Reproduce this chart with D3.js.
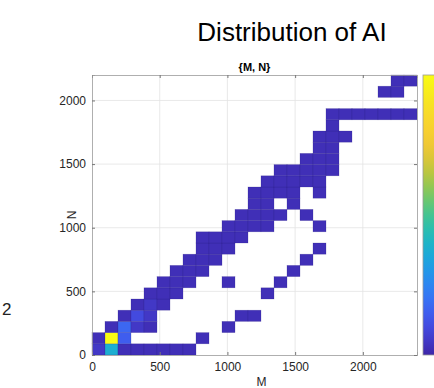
<!DOCTYPE html>
<html>
<head>
<meta charset="utf-8">
<script src="https://cdn.jsdelivr.net/npm/d3@7/dist/d3.min.js"></script>
<style>
  body { margin: 0; background: #fff; }
  svg { display: block; font-family: Arial, "Liberation Sans", Helvetica, sans-serif; }
</style>
</head>
<body>
<svg id="chart" width="434" height="388"></svg>
<script>
// DATA
const mDomain = [0, 2400];
const nDomain = [0, 2200];
const mBinWidth = 96;
const nBinWidth = 88;
const mTicks = [0, 500, 1000, 1500, 2000];
const nTicks = [0, 500, 1000, 1500, 2000];
const countMax = 40;

// [M bin index, N bin index, count]
const cells = [
  [0,0,2],[1,0,15],[2,0,1],[3,0,1],[4,0,1],[5,0,1],[6,0,1],[7,0,1],
  [0,1,1],[1,1,40],[2,1,6],[8,1,1],
  [1,2,1],[2,2,7],[3,2,2],[4,2,1],[10,2,1],
  [2,3,1],[3,3,4],[4,3,2],[11,3,1],[12,3,1],
  [3,4,1],[4,4,2],[5,4,1],
  [4,5,1],[5,5,1],[6,5,1],[13,5,1],
  [5,6,1],[6,6,1],[7,6,1],[10,6,1],[14,6,1],
  [6,7,1],[7,7,1],[8,7,1],[15,7,1],
  [7,8,1],[8,8,1],[9,8,1],[16,8,1],
  [8,9,1],[9,9,1],[10,9,1],[17,9,1],
  [8,10,1],[9,10,1],[10,10,1],[11,10,1],
  [10,11,1],[11,11,1],[12,11,1],[13,11,1],[17,11,1],
  [11,12,1],[12,12,1],[13,12,1],[14,12,1],[16,12,1],
  [12,13,1],[13,13,1],[15,13,1],
  [12,14,1],[13,14,1],[14,14,1],[15,14,1],[17,14,1],
  [13,15,1],[14,15,1],[15,15,1],[16,15,1],[17,15,1],
  [14,16,1],[15,16,1],[16,16,1],[17,16,1],[18,16,1],
  [16,17,1],[17,17,1],[18,17,1],
  [17,18,1],[18,18,1],
  [17,19,1],[18,19,1],[19,19,1],
  [18,20,1],
  [18,21,1],[19,21,1],[20,21,1],[21,21,1],[22,21,1],[23,21,1],[24,21,1],
  [22,23,1],[23,23,1],
  [23,24,1],[24,24,1]
];

// parula-like colormap
const parulaStops = ["#3e26a8", "#4852f4", "#2d87f7", "#12b1d6", "#37c897", "#abc739", "#fec338", "#f5dd26", "#f9fb14"];
const parula = d3.interpolateRgbBasis(parulaStops);

const margin = {top: 75, right: 17, bottom: 33, left: 92};
const width = 434 - margin.left - margin.right,
      height = 388 - margin.top - margin.bottom;

const svg = d3.select("#chart");

// big title
svg.append("text")
    .attr("x", 292)
    .attr("y", 41)
    .attr("text-anchor", "middle")
    .attr("font-size", 26)
    .attr("fill", "#000")
    .text("Distribution of AI");

svg.append("text")
    .attr("x", 2)
    .attr("y", 315)
    .attr("font-size", 17)
    .attr("fill", "#222")
    .text("2");

const g = svg.append("g")
    .attr("transform", `translate(${margin.left}, ${margin.top})`);

const x = d3.scaleLinear().domain(mDomain).range([0, width]);
const y = d3.scaleLinear().domain(nDomain).range([height, 0]);
const color = d3.scaleSequential(parula).domain([0, countMax]);

// grid
g.append("g").selectAll("line")
  .data(mTicks.slice(1))
  .join("line")
    .attr("x1", d => x(d)).attr("x2", d => x(d))
    .attr("y1", 0).attr("y2", height)
    .attr("stroke", "#e3e3e3").attr("stroke-width", 0.8);
g.append("g").selectAll("line")
  .data(nTicks.slice(1))
  .join("line")
    .attr("y1", d => y(d)).attr("y2", d => y(d))
    .attr("x1", 0).attr("x2", width)
    .attr("stroke", "#e3e3e3").attr("stroke-width", 0.8);

// tiles
g.append("g").selectAll("rect")
  .data(cells)
  .join("rect")
    .attr("x", d => x(d[0] * mBinWidth))
    .attr("y", d => y((d[1] + 1) * nBinWidth))
    .attr("width", d => x((d[0] + 1) * mBinWidth) - x(d[0] * mBinWidth))
    .attr("height", d => y(d[1] * nBinWidth) - y((d[1] + 1) * nBinWidth))
    .attr("fill", d => color(d[2]))
    .attr("stroke", "#2a1c80")
    .attr("stroke-opacity", 0.35)
    .attr("stroke-width", 0.6);

// axes
const fmt = d3.format("d");
const xAxis = g.append("g")
    .attr("transform", `translate(0, ${height})`)
    .call(d3.axisBottom(x).tickValues(mTicks).tickFormat(fmt).tickSize(-3).tickPadding(7));
const xAxisTop = g.append("g")
    .call(d3.axisTop(x).tickValues(mTicks).tickSize(-3).tickFormat(""));
const yAxis = g.append("g")
    .call(d3.axisLeft(y).tickValues(nTicks).tickFormat(fmt).tickSize(-3).tickPadding(6));
const yAxisRight = g.append("g")
    .attr("transform", `translate(${width}, 0)`)
    .call(d3.axisRight(y).tickValues(nTicks).tickSize(-3).tickFormat(""));

[xAxis, xAxisTop, yAxis, yAxisRight].forEach(a => {
    a.select(".domain").attr("stroke", "#9a9a9a").attr("stroke-width", 0.8);
    a.selectAll(".tick line").attr("stroke", "#777");
    a.selectAll(".tick text")
      .attr("font-size", 12)
      .attr("font-family", "Arial, 'Liberation Sans', sans-serif")
      .attr("fill", "#262626");
});

// axis labels
g.append("text")
    .attr("x", width / 2 + 7)
    .attr("y", height + 31)
    .attr("text-anchor", "middle")
    .attr("font-size", 12)
    .attr("fill", "#262626")
    .text("M");
g.append("text")
    .attr("transform", `translate(-16, ${height / 2}) rotate(-90)`)
    .attr("text-anchor", "middle")
    .attr("font-size", 12)
    .attr("fill", "#262626")
    .text("N");
g.append("text")
    .attr("x", width / 2)
    .attr("y", -4)
    .attr("text-anchor", "middle")
    .attr("font-size", 11)
    .attr("font-weight", "bold")
    .attr("fill", "#000")
    .text("{M, N}");

// colorbar
const defs = svg.append("defs");
const grad = defs.append("linearGradient")
    .attr("id", "cbar")
    .attr("x1", "0%").attr("y1", "100%")
    .attr("x2", "0%").attr("y2", "0%");
d3.range(0, 1.0001, 0.05).forEach(t => {
    grad.append("stop")
      .attr("offset", `${t * 100}%`)
      .attr("stop-color", parula(t));
});
svg.append("rect")
    .attr("x", 423)
    .attr("y", margin.top)
    .attr("width", 22)
    .attr("height", height)
    .attr("fill", "url(#cbar)")
    .attr("stroke", "#9a9a9a")
    .attr("stroke-width", 0.8);
</script>
</body>
</html>
